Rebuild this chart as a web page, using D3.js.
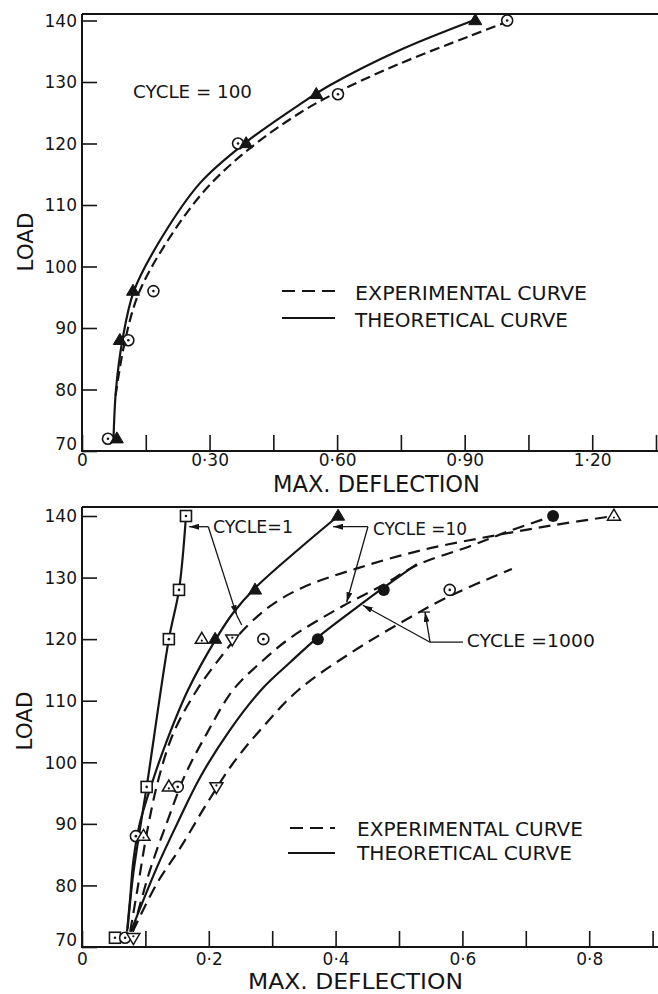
<!DOCTYPE html>
<html>
<head>
<meta charset="utf-8">
<script src="https://cdn.jsdelivr.net/npm/d3@7/dist/d3.min.js"></script>
<style>
  html, body { margin: 0; padding: 0; background: #fff; }
  svg { display: block; font-family: "DejaVu Sans", "Liberation Sans", sans-serif; }
</style>
</head>
<body>
<svg id="fig" width="658" height="994"></svg>
<script>
// ---------------- shared tick data ----------------
const loadTicks = [70, 80, 90, 100, 110, 120, 130, 140];
const loadTickLabels = ["70", "80", "90", "100", "110", "120", "130", "140"];

// ---------------- upper panel: cycle = 100 ----------------
const upperDeflTicks = [0, 0.15, 0.30, 0.45, 0.60, 0.75, 0.90, 1.05, 1.20, 1.35];
const upperDeflTickLabels = ["0", "", "0·30", "", "0·60", "", "0·90", "", "1·20", ""];

// measured points (open circles) and theoretical points (filled triangles)
const c100ExpDefl  = [0.061, 0.109, 0.168, 0.367, 0.602, 1.000];
const c100ExpLoad  = [72, 88, 96, 120, 128, 140];
const c100TheoDefl = [0.082, 0.089, 0.120, 0.386, 0.551, 0.925];
const c100TheoLoad = [72, 88, 96, 120, 128, 140];

// experimental (dashed) and theoretical (solid) curves
const c100ExpCurveDefl  = [0.079, 0.099, 0.132, 0.195, 0.289, 0.391, 0.513, 0.602, 0.748, 0.913, 1.000];
const c100ExpCurveLoad  = [79, 87.2, 95.4, 103.5, 112.4, 119, 125, 128.4, 133, 137.5, 139.8];
const c100TheoCurveDefl = [0.074, 0.080, 0.095, 0.122, 0.184, 0.278, 0.384, 0.513, 0.584, 0.748, 0.920];
const c100TheoCurveLoad = [71.8, 80, 88, 96, 104.3, 113.6, 120.1, 126.4, 129.5, 135.2, 140];

// ---------------- lower panel: cycles 1, 10, 1000 ----------------
const lowerDeflTicks = [0, 0.1, 0.2, 0.3, 0.4, 0.5, 0.6, 0.7, 0.8, 0.9];
const lowerDeflTickLabels = ["0", "", "0·2", "", "0·4", "", "0·6", "", "0·8", ""];

// cycle 1
const c1TheoCurveDefl = [0.072, 0.080, 0.091, 0.102, 0.137, 0.153, 0.164];
const c1TheoCurveLoad = [73, 81.2, 88.9, 96, 120, 128, 140];
const c1ExpCurveDefl  = [0.076, 0.087, 0.103, 0.120, 0.144, 0.181, 0.222, 0.250, 0.292, 0.344, 0.434, 0.538, 0.644, 0.743, 0.839];
const c1ExpCurveLoad  = [72.5, 79.1, 88.9, 97, 104.7, 111.7, 117.5, 121, 125, 128.2, 131.5, 134.5, 136.7, 138.5, 140];
// cycle 10
const c10TheoCurveDefl = [0.071, 0.076, 0.081, 0.091, 0.110, 0.132, 0.167, 0.210, 0.238, 0.273, 0.344, 0.404];
const c10TheoCurveLoad = [72.5, 78, 84, 90, 96.5, 103, 111.7, 119.8, 124.2, 128.3, 134.8, 140];
const c10ExpCurveDefl  = [0.080, 0.107, 0.136, 0.162, 0.197, 0.238, 0.285, 0.330, 0.410, 0.475, 0.528, 0.612, 0.675, 0.743];
const c10ExpCurveLoad  = [72.5, 82.4, 90.8, 97.8, 104.7, 111.7, 116.5, 120.3, 125.3, 128.8, 132, 135.1, 137.6, 140];
// cycle 1000
const c1000TheoCurveDefl = [0.077, 0.118, 0.150, 0.186, 0.233, 0.284, 0.328, 0.372, 0.434, 0.476, 0.528];
const c1000TheoCurveLoad = [72.5, 82.9, 90, 97.5, 105.2, 111.9, 116.2, 120.3, 125.2, 128.4, 132.2];
const c1000ExpCurveDefl  = [0.080, 0.118, 0.155, 0.197, 0.238, 0.285, 0.341, 0.420, 0.500, 0.580, 0.678];
const c1000ExpCurveLoad  = [72.5, 80.3, 86.1, 93.3, 99.8, 105.7, 111.7, 117.5, 122.5, 127, 131.4];

// plotted points, by symbol
const squareDefl   = [0.052, 0.102, 0.137, 0.153, 0.164];
const squareLoad   = [71.5, 96, 120, 128, 140];
const circleDefl   = [0.068, 0.085, 0.151, 0.286, 0.580];
const circleLoad   = [71.5, 88, 96, 120, 128];
const triUpDefl    = [0.097, 0.137, 0.189, 0.839];
const triUpLoad    = [88, 96, 120, 140];
const triDownDefl  = [0.081, 0.212, 0.237];
const triDownLoad  = [71.5, 96, 120];
const triFillDefl  = [0.210, 0.273, 0.404];
const triFillLoad  = [120, 128, 140];
const dotFillDefl  = [0.372, 0.476, 0.743];
const dotFillLoad  = [120, 128, 140];

// ---------------- drawing ----------------
const INK = "#151515";
const svg = d3.select("#fig");
const zip = (a, b) => a.map((v, i) => [v, b[i]]);

svg.append("rect").attr("width", 658).attr("height", 994).attr("fill", "#fff");

const defs = svg.append("defs");
defs.append("marker")
  .attr("id", "head")
  .attr("viewBox", "0 0 10 6")
  .attr("refX", 10).attr("refY", 3)
  .attr("markerWidth", 10).attr("markerHeight", 6)
  .attr("markerUnits", "userSpaceOnUse")
  .attr("orient", "auto")
  .append("path").attr("d", "M0,0 L10,3 L0,6 Z").attr("fill", INK);

function panel(cfg) {
  const g = svg.append("g");
  const x = d3.scaleLinear().domain(cfg.xDomain).range(cfg.xRange);
  const y = d3.scaleLinear().domain([70, 140]).range(cfg.yRange);
  const y0 = cfg.yRange[0];

  // x axis (ticks point inward)
  const xa = g.append("g").attr("transform", `translate(0,${y0})`)
    .call(d3.axisBottom(x).tickValues(cfg.xTicks).tickSize(-16).tickSizeOuter(0)
      .tickPadding(4).tickFormat((d, i) => cfg.xTickLabels[i]));
  xa.select(".domain").remove();
  xa.selectAll(".tick line").attr("stroke", INK).attr("stroke-width", 1.6);
  xa.selectAll(".tick text").attr("fill", INK).attr("font-size", 17)
    .attr("font-family", "DejaVu Sans, sans-serif").attr("dy", cfg.xLabelDy);
  xa.attr("font-family", null).attr("font-size", null);

  // y axis (ticks point inward)
  const ya = g.append("g").attr("transform", `translate(${cfg.xRange[0]},0)`)
    .call(d3.axisLeft(y).tickValues(loadTicks).tickSize(-15).tickSizeOuter(0)
      .tickPadding(5).tickFormat((d, i) => loadTickLabels[i]));
  ya.select(".domain").remove();
  ya.selectAll(".tick line").attr("stroke", INK).attr("stroke-width", 1.6);
  ya.selectAll(".tick text").attr("fill", INK).attr("font-size", 17)
    .attr("font-family", "DejaVu Sans, sans-serif")
    .attr("dy", d => d === 70 ? "-0.1em" : "0.34em");
  ya.attr("font-family", null).attr("font-size", null);

  // frame: left, top and bottom rules
  const fr = g.append("g").attr("stroke", INK).attr("stroke-width", 2).attr("fill", "none");
  fr.append("line").attr("x1", cfg.xRange[0]).attr("x2", cfg.xRange[0]).attr("y1", cfg.frameTop).attr("y2", y0 + 1);
  fr.append("line").attr("x1", cfg.xRange[0]).attr("x2", 658).attr("y1", cfg.frameTop).attr("y2", cfg.frameTop);
  fr.append("line").attr("x1", cfg.xRange[0] - 1).attr("x2", 658).attr("y1", y0).attr("y2", y0);

  // axis titles
  g.append("text").attr("transform", `translate(${cfg.loadTitle[0]},${cfg.loadTitle[1]}) rotate(-90)`)
    .attr("text-anchor", "middle").attr("font-size", 22).attr("fill", INK)
    .attr("textLength", 59).attr("lengthAdjust", "spacingAndGlyphs").text("LOAD");
  g.append("text").attr("x", cfg.deflTitle[0]).attr("y", cfg.deflTitle[1])
    .attr("font-size", cfg.deflTitle[3]).attr("fill", INK)
    .attr("textLength", cfg.deflTitle[2]).attr("lengthAdjust", "spacingAndGlyphs").text("MAX. DEFLECTION");

  // legend
  const lg = g.append("g").attr("fill", INK).attr("stroke", INK);
  const L = cfg.legend;
  lg.append("line").attr("x1", L.x1d).attr("x2", L.x2).attr("y1", L.y1).attr("y2", L.y1)
    .attr("stroke-width", 2.2).attr("stroke-dasharray", "13,7");
  lg.append("line").attr("x1", L.x1s).attr("x2", L.x2).attr("y1", L.y2).attr("y2", L.y2)
    .attr("stroke-width", 2.2);
  lg.append("text").attr("x", L.tx).attr("y", L.b1).attr("stroke", "none").attr("font-size", 19)
    .attr("textLength", L.w1).attr("lengthAdjust", "spacingAndGlyphs").text("EXPERIMENTAL CURVE");
  lg.append("text").attr("x", L.tx).attr("y", L.b2).attr("stroke", "none").attr("font-size", 19)
    .attr("textLength", L.w2).attr("lengthAdjust", "spacingAndGlyphs").text("THEORETICAL CURVE");

  const line = d3.line().x(d => x(d[0])).y(d => y(d[1])).curve(d3.curveCatmullRom.alpha(0.5));
  const curves = g.append("g").attr("fill", "none").attr("stroke", INK).attr("stroke-width", 2.2);
  cfg.curves.forEach(c => {
    curves.append("path").attr("d", line(c.pts)).attr("stroke-dasharray", c.dash ? cfg.dash : null);
  });

  return { g, x, y };
}

// ---------- point symbols ----------
function circleDot(g, cx, cy) {
  g.append("circle").attr("cx", cx).attr("cy", cy).attr("r", 5.5)
    .attr("fill", "#fff").attr("stroke", INK).attr("stroke-width", 1.6);
  g.append("circle").attr("cx", cx).attr("cy", cy).attr("r", 1.3).attr("fill", INK);
}
function squareDot(g, cx, cy) {
  g.append("rect").attr("x", cx - 5.5).attr("y", cy - 5.5).attr("width", 11).attr("height", 11)
    .attr("fill", "#fff").attr("stroke", INK).attr("stroke-width", 1.6);
  g.append("circle").attr("cx", cx).attr("cy", cy).attr("r", 1.3).attr("fill", INK);
}
function triangle(g, cx, cy, up, filled) {
  const h = 11, w = 13;
  const s = up ? 1 : -1;
  const d = `M${cx},${cy - s * h * 0.62} L${cx + w / 2},${cy + s * h * 0.38} L${cx - w / 2},${cy + s * h * 0.38} Z`;
  g.append("path").attr("d", d).attr("fill", filled ? INK : "#fff")
    .attr("stroke", INK).attr("stroke-width", filled ? 1 : 1.5).attr("stroke-linejoin", "miter");
  if (!filled) g.append("circle").attr("cx", cx).attr("cy", cy + s * 1.5).attr("r", 1.1).attr("fill", INK);
}
function dotFilled(g, cx, cy) {
  g.append("circle").attr("cx", cx).attr("cy", cy).attr("r", 6).attr("fill", INK);
}
function plotPoints(p, xs, ys, fn) {
  const g = p.g.append("g");
  xs.forEach((v, i) => fn(g, p.x(v), p.y(ys[i])));
}

// ================= upper panel =================
const up = panel({
  xDomain: [0, 1.35], xRange: [82, 656], yRange: [451, 20.5], frameTop: 14,
  xTicks: upperDeflTicks, xTickLabels: upperDeflTickLabels, xLabelDy: "0.65em",
  loadTitle: [33, 242], deflTitle: [273, 492, 207, 23],
  legend: { x1d: 282, x1s: 282, x2: 335, y1: 291, y2: 318, tx: 355, b1: 300, b2: 327, w1: 232, w2: 213 },
  dash: "10,5",
  curves: [
    { pts: zip(c100ExpCurveDefl, c100ExpCurveLoad), dash: true },
    { pts: zip(c100TheoCurveDefl, c100TheoCurveLoad), dash: false }
  ]
});
plotPoints(up, c100ExpDefl, c100ExpLoad, circleDot);
plotPoints(up, c100TheoDefl, c100TheoLoad, (g, cx, cy) => triangle(g, cx, cy, true, true));
up.g.append("text").attr("x", up.x(0.12)).attr("y", up.y(127.4)).attr("font-size", 18).attr("fill", INK)
  .attr("textLength", 119).attr("lengthAdjust", "spacingAndGlyphs").text("CYCLE = 100");

// ================= lower panel =================
const lo = panel({
  xDomain: [0, 0.9], xRange: [82, 652.6], yRange: [947, 516], frameTop: 507,
  xTicks: lowerDeflTicks, xTickLabels: lowerDeflTickLabels, xLabelDy: "0.82em",
  loadTitle: [32, 721], deflTitle: [248, 989, 215, 21],
  legend: { x1d: 290, x1s: 288, x2: 335, y1: 828, y2: 853, tx: 357, b1: 836, b2: 860, w1: 226, w2: 215 },
  dash: "12,7",
  curves: [
    { pts: zip(c1TheoCurveDefl, c1TheoCurveLoad), dash: false },
    { pts: zip(c1ExpCurveDefl, c1ExpCurveLoad), dash: true },
    { pts: zip(c10TheoCurveDefl, c10TheoCurveLoad), dash: false },
    { pts: zip(c10ExpCurveDefl, c10ExpCurveLoad), dash: true },
    { pts: zip(c1000TheoCurveDefl, c1000TheoCurveLoad), dash: false },
    { pts: zip(c1000ExpCurveDefl, c1000ExpCurveLoad), dash: true }
  ]
});
plotPoints(lo, squareDefl, squareLoad, squareDot);
plotPoints(lo, circleDefl, circleLoad, circleDot);
plotPoints(lo, triUpDefl, triUpLoad, (g, cx, cy) => triangle(g, cx, cy, true, false));
plotPoints(lo, triDownDefl, triDownLoad, (g, cx, cy) => triangle(g, cx, cy, false, false));
plotPoints(lo, triFillDefl, triFillLoad, (g, cx, cy) => triangle(g, cx, cy, true, true));
plotPoints(lo, dotFillDefl, dotFillLoad, dotFilled);

// cycle labels with leader arrows
const ann = lo.g.append("g").attr("stroke", INK).attr("stroke-width", 1.3).attr("fill", "none");
function leader(a, b, arrow) {
  ann.append("line").attr("x1", lo.x(a[0])).attr("y1", lo.y(a[1]))
    .attr("x2", lo.x(b[0])).attr("y2", lo.y(b[1]))
    .attr("marker-end", arrow ? "url(#head)" : null);
}
function label(t, xv, lv, w) {
  lo.g.append("text").attr("x", lo.x(xv)).attr("y", lo.y(lv)).attr("font-size", 18).attr("fill", INK)
    .attr("textLength", w).attr("lengthAdjust", "spacingAndGlyphs").text(t);
}

// CYCLE = 1
label("CYCLE=1", 0.2066, 137.24, 80);
leader([0.1992, 138.26], [0.169, 138.26], true);
leader([0.1992, 138.26], [0.244, 123.9], true);
leader([0.244, 123.9], [0.2519, 122.3], false);

// CYCLE = 10
label("CYCLE =10", 0.459, 136.9, 94);
leader([0.451, 138.26], [0.396, 138.26], true);
leader([0.451, 138.26], [0.4175, 126.0], true);

// CYCLE = 1000
label("CYCLE =1000", 0.607, 118.7, 128);
leader([0.549, 119.5], [0.601, 119.5], false);
leader([0.549, 119.5], [0.443, 125.5], true);
leader([0.549, 119.5], [0.541, 124.4], true);
ann.append("line").attr("x1", lo.x(0.541) - 5).attr("x2", lo.x(0.541) + 5)
  .attr("y1", lo.y(124.4)).attr("y2", lo.y(124.4));
</script>
</body>
</html>
